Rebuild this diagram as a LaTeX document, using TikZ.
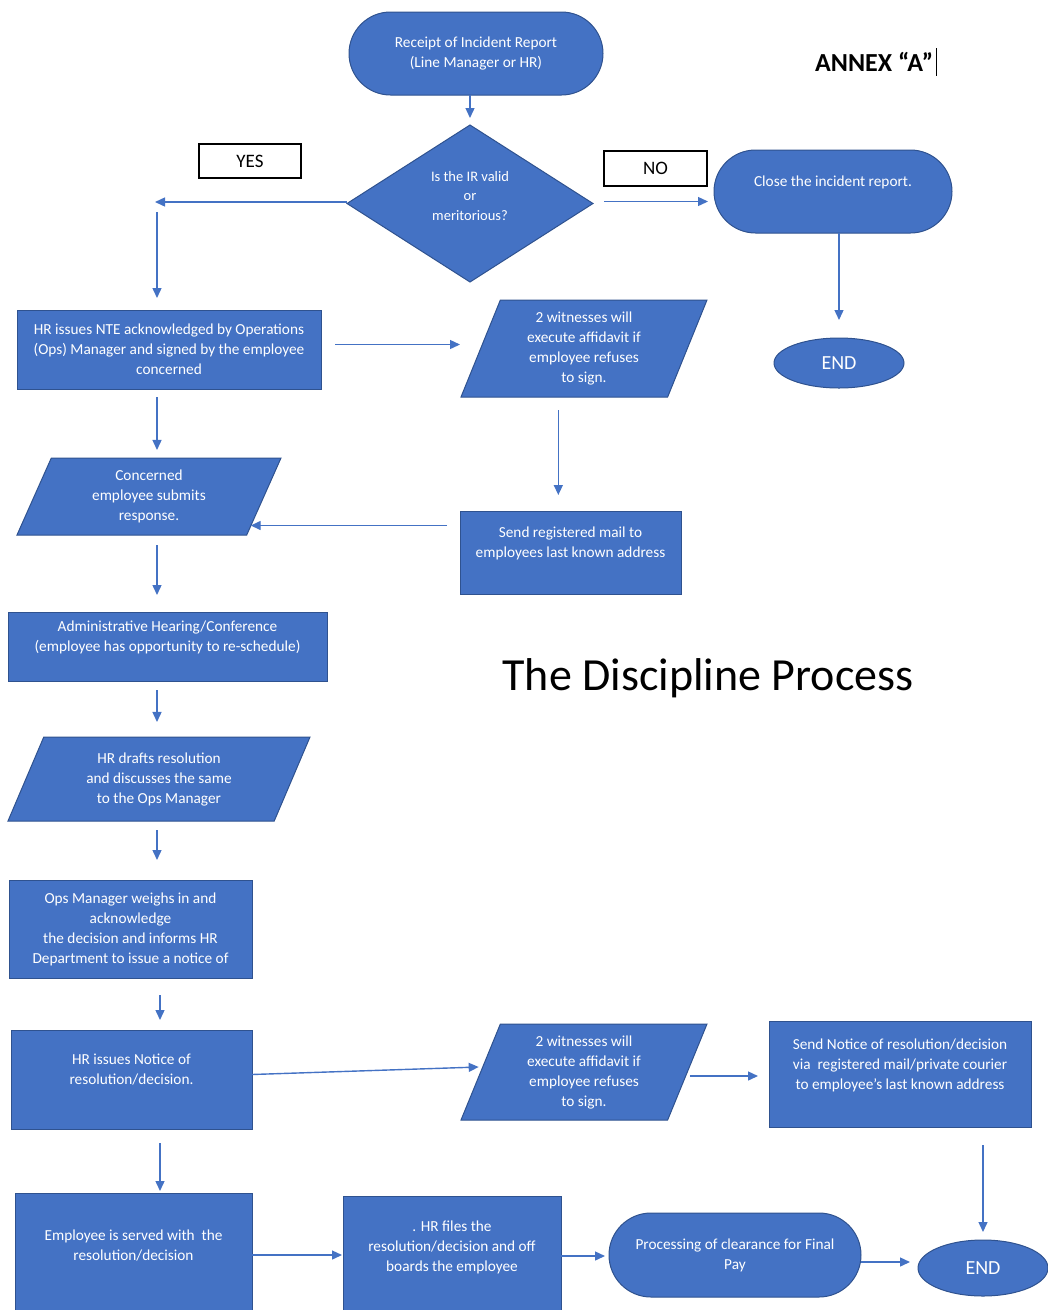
\documentclass[tikz,border=0pt]{standalone}
\usepackage{fontspec}
\setmainfont{Carlito}
\usetikzlibrary{shapes.geometric,shapes.misc,arrows.meta,calc}
\definecolor{boxc}{HTML}{4472C4}
\definecolor{bordc}{HTML}{2F528F}
\definecolor{arrc}{HTML}{4472C4}
\newcommand\bxf{\fontsize{15.3}{20}\selectfont}
\tikzset{
  box/.style={draw=bordc, fill=boxc, text=white, align=center, font=\bxf, inner sep=2, outer sep=0, line width=1},
  procbox/.style={box, rectangle},
  termbox/.style={box, rounded rectangle},
  parabox/.style 2 args={box, trapezium, trapezium stretches body, trapezium left angle=#1, trapezium right angle=#2},
  lblbox/.style={draw=black, fill=white, line width=1.2, rectangle, inner sep=0, outer sep=0, font=\fontsize{19}{22}\selectfont},
  endbox/.style={box, ellipse, font=\fontsize{20}{22}\selectfont},
  arr/.style={draw=arrc, line width=1.4, -{Triangle[length=10,width=9]}}
}
\begin{document}
\begin{tikzpicture}[x=1pt,y=-1pt]
\useasboundingbox (0,0) rectangle (1048,1310);
\clip (0,0) rectangle (1048,1310);
% nodes
\node[termbox, minimum width=258, minimum height=83] (start) at (476,53.5) {Receipt of Incident Report\\(Line Manager or HR)};
\node[box, diamond, minimum width=246, minimum height=157, inner sep=0, font=\fontsize{14.5}{19.5}\selectfont] (dia) at (470,203.5) {Is the IR valid\\or\\meritorious?\\[-4pt]};
\node[lblbox, minimum width=102, minimum height=34] (yes) at (250,161) {YES};
\node[lblbox, minimum width=103, minimum height=35] (no) at (655.5,168.5) {NO};
\node[termbox, minimum width=242, minimum height=83] (close) at (833,191.5) {Close the incident report.\\~};
\node[endbox, minimum width=130, minimum height=50] (end1) at (839,363) {END};
\node[procbox, minimum width=304, minimum height=79] (nte) at (169,349.5) {HR issues NTE acknowledged by Operations\\(Ops) Manager and signed by the employee\\concerned};
\node[parabox={63}{117}, minimum width=246, minimum height=97] (w1) at (584,348.5) {2 witnesses will\\execute affidavit if\\employee refuses\\to sign.};
\node[procbox, minimum width=221, minimum height=83] (mail) at (570.5,552.5) {Send registered mail to\\employees last known address\\~};
\node[parabox={59}{121}, minimum width=264, minimum height=77] (con) at (149,496.5) {Concerned\\employee submits\\response.};
\node[procbox, minimum width=319, minimum height=69] (adm) at (167.5,646.5) {Administrative Hearing/Conference\\(employee has opportunity to re-schedule)\\~};
\node[parabox={58}{122}, minimum width=302, minimum height=84] (dr) at (159,779) {HR drafts resolution\\and discusses the same\\to the Ops Manager};
\node[procbox, minimum width=243, minimum height=98] (ops) at (130.5,929) {Ops Manager weighs in and\\acknowledge\\the decision and informs HR\\Department to issue a notice of};
\node[procbox, minimum width=241, minimum height=99] (hrn) at (131.5,1079.5) {HR issues Notice of\\resolution/decision.\\~};
\node[parabox={63}{117}, minimum width=246, minimum height=96] (w2) at (584,1072) {2 witnesses will\\execute affidavit if\\employee refuses\\to sign.};
\node[procbox, minimum width=262, minimum height=106] (sn) at (900,1074) {Send Notice of resolution/decision\\via\ \ registered mail/private courier\\to employee’s last known address\\~};
\node[endbox, minimum width=130, minimum height=56] (end2) at (983,1268) {END};
\node[procbox, minimum width=237, minimum height=124] (emp) at (133.5,1255) {Employee is served with\ \ the\\resolution/decision\\~};
\node[procbox, minimum width=218, minimum height=120] (hrf) at (452,1256) {. HR files the\\resolution/decision and off\\boards the employee\\~};
\node[termbox, minimum width=256, minimum height=84] (proc) at (735,1255) {Processing of clearance for Final\\Pay};
\node[font=\fontsize{46}{50}\selectfont, inner sep=0] (title) at (708,678) {The Discipline Process};
\node[font=\bfseries\fontsize{26}{30}\selectfont, anchor=west, inner sep=0] (annex) at (815,62) {ANNEX “A”};
\draw[line width=1] ($(annex.east)+(3,-14)$) -- ($(annex.east)+(3,14)$);
\coordinate (yesl) at (155,202);
\coordinate (yesd) at (157,212);
% connectors
\draw[arr] (dia.north |- start.south) -- ($(dia.north)+(0,-7)$);
\draw[arr] ($(dia.west)+(0,-1.5)$) -- (yesl);
\draw[arr, shorten >=12pt] (yesd) -- (yesd |- nte.north);
\draw[arr] ($(dia.east)+(11,-2)$) -- ($(dia.east -| close.west)+(-6,-2)$);
\draw[arr, shorten >=18pt] (end1.north |- close.south) -- (end1.north);
\draw[arr] ($(nte.east)+(14,-5)$) -- ($(nte.east -| w1.bottom left corner)+(-1,-5)$);
\draw[arr] ($(w1.bottom side)+(-6,13)$) -- ($(w1.bottom side |- mail.north)+(-6,-16)$);
\draw[arr] ($(mail.west)+(-13,-27)$) -- ($(mail.west -| con.bottom right corner)+(4,-27)$);
\draw[arr] ($(nte.south)+(-12,8)$) -- ($(nte.south |- con.north)+(-12,-8)$);
\draw[arr] ($(nte.south |- con.south)+(-12,10)$) -- ($(nte.south |- adm.north)+(-12,-17)$);
\draw[arr] ($(nte.south |- adm.south)+(-12,9)$) -- ($(nte.south |- dr.north)+(-12,-15)$);
\draw[arr] ($(nte.south |- dr.south)+(-12,9)$) -- ($(nte.south |- ops.north)+(-12,-20)$);
\draw[arr] ($(ops.south)+(29.5,17)$) -- ($(ops.south |- hrn.north)+(29.5,-10)$);
\draw[arr] ($(hrn.east)+(0,-5)$) -- ($(w2.left side)+(-2,-5)$);
\draw[arr] ($(w2.right side)+(2.5,4)$) -- ($(sn.west)+(-11,2)$);
\draw[arr, shorten <=18pt, shorten >=8pt] (end2.north |- sn.south) -- (end2.north);
\draw[arr] ($(hrn.south)+(28.5,14)$) -- ($(hrn.south |- emp.north)+(28.5,-2)$);
\draw[arr, shorten >=1pt] (emp.east) -- (emp.east -| hrf.west);
\draw[arr, shorten >=4pt] (hrf.east) -- (hrf.east -| proc.west);
\draw[arr] ($(proc.east)+(0,7)$) -- ($(proc.east -| end2.west)+(-8,7)$);
\end{tikzpicture}
\end{document}
